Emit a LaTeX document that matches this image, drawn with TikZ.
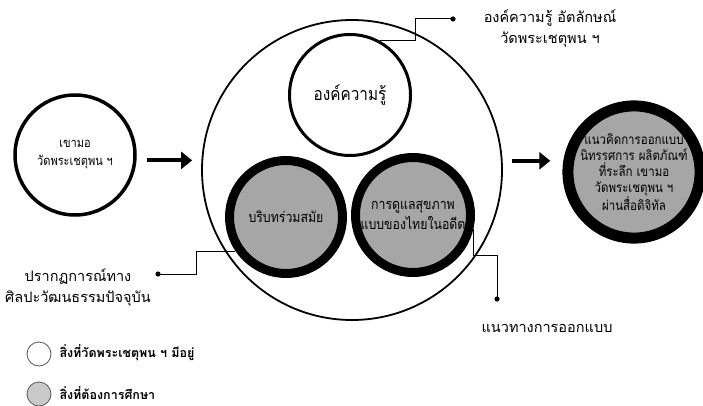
\documentclass[tikz,border=0pt]{standalone}
\usepackage{fontspec}
\usepackage{tikz}
\usetikzlibrary{arrows.meta}
\newfontfamily\thaifont[Script=Thai]{Loma}
\newfontfamily\thainarrow[Script=Thai, FakeStretch=0.85]{Loma}
\definecolor{topicgray}{HTML}{A6A6A6}
\definecolor{keygray}{HTML}{C9C9C9}
\definecolor{keyline}{HTML}{555555}

\begin{document}
\begin{tikzpicture}[x=1pt, y=-1pt,
    ring/.style={circle, draw, fill=white, inner sep=0pt, align=center,
        font=\thainarrow\fontsize{13}{18}\selectfont},
    study/.style={ring, fill=topicgray, font=\thainarrow\fontsize{14.5}{20}\selectfont},
    tag/.style={align=center, font=\thaifont\fontsize{14.5}{21}\selectfont},
    keytext/.style={anchor=west, font=\thaifont\bfseries\fontsize{12.5}{15}\selectfont},
    pin/.style={line width=1pt},
    bigarrow/.style={line width=4pt, -{Triangle[length=11pt,width=17pt]}}]
    \useasboundingbox (0,0) rectangle (703,406);

    % outer circle and what it holds
    \node[ring, line width=1.8pt, minimum size=300pt] (core) at (352,170) {};
    \node[ring, line width=3pt, minimum size=121pt,
        font=\thainarrow\fontsize{18}{22}\selectfont] (know) at (350,95) {องค์ความรู้};
    \node[study, line width=9pt, minimum size=113pt] (modern) at (286,217) {บริบทร่วมสมัย};
    \node[study, line width=9pt, minimum size=115pt] (health) at (413,215)
        {การดูแลสุขภาพ\\แบบของไทยในอดีต};

    % left and right circles
    \node[ring, line width=3.5pt, minimum size=120pt] (temple) at (75,155)
        {เขามอ\\วัดพระเชตุพน ฯ};
    \node[study, line width=11pt, minimum size=123pt,
        font=\thainarrow\fontsize{13.5}{16}\selectfont] (design) at (634,172)
        {แนวคิดการออกแบบ\\นิทรรศการ ผลิตภัณฑ์\\ที่ระลึก เขามอ\\วัดพระเชตุพน ฯ\\ผ่านสื่อดิจิทัล};

    \draw[bigarrow, shorten <=10pt, shorten >=9pt] (temple.-5) -- (temple.-5 -| core.west);
    \draw[bigarrow, shorten <=9pt, shorten >=13pt] (design.171 -| core.east) -- (design.171);

    % labels with pins
    \node[tag] (ktag) at (550,29) {องค์ความรู้ อัตลักษณ์\\วัดพระเชตุพน ฯ};
    \node[tag] (ptag) at (78,288) {ปรากฏการณ์ทาง\\ศิลปะวัฒนธรรมปัจจุบัน};
    \node[tag] (gtag) at (547,328) {แนวทางการออกแบบ};
    \coordinate (kdot) at (453,19);
    \coordinate (pdot) at (158,274);
    \coordinate (gdot) at (497,299);
    \draw[pin] (kdot) -- ++(-38,0) |- (know.61);
    \draw[pin] (pdot) -- ++(38,0) |- (modern.214);
    \draw[pin] (health.-13) -- ++(0,27) -| (gdot);
    \foreach \d in {kdot,pdot,gdot} {
        \fill (\d) circle (2.6);
    }

    % key
    \node[circle, draw=keyline, fill=white, line width=0.8pt, minimum size=24pt,
        inner sep=0pt] (keyhave) at (39,354) {};
    \node[circle, draw=keyline, fill=keygray, line width=0.8pt, minimum size=24pt,
        inner sep=0pt] (keystudy) at (39,394) {};
    \node[keytext] at (56,353) {สิ่งที่วัดพระเชตุพน ฯ มีอยู่};
    \node[keytext] at (56,393) {สิ่งที่ต้องการศึกษา};
\end{tikzpicture}
\end{document}
